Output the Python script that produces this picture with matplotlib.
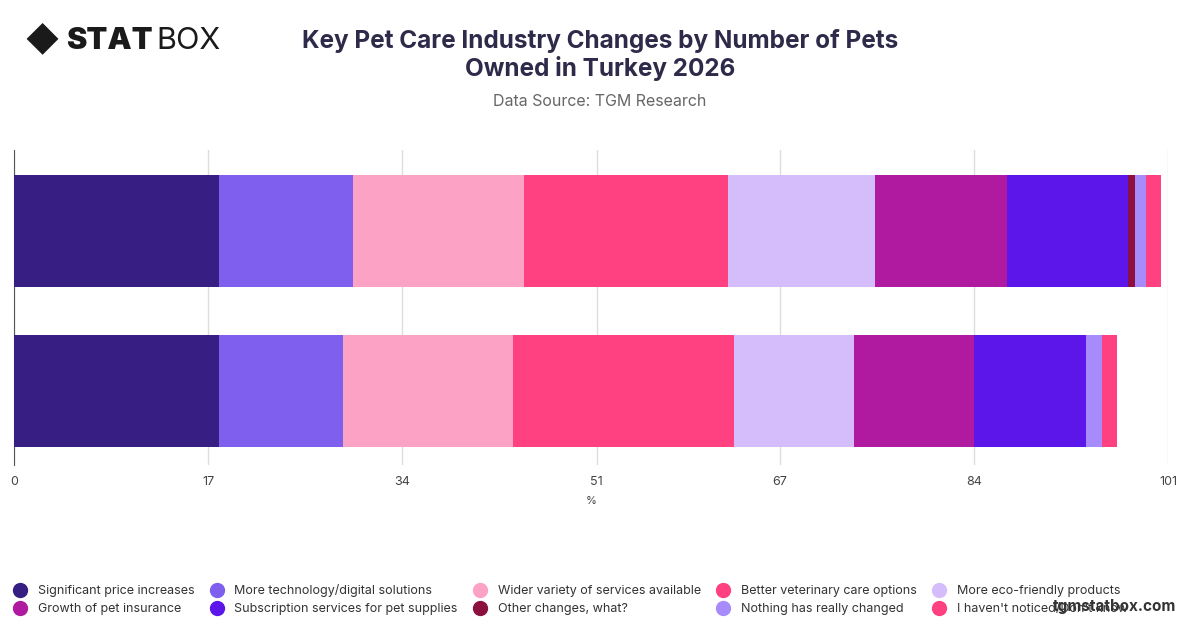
import matplotlib.pyplot as plt
from matplotlib.lines import Line2D

categories = ["Group A", "Group B"]
series_names = [
	"Significant price increases", "More technology/digital solutions",
	"Wider variety of services available", "Better veterinary care options",
	"More eco-friendly products", "Growth of pet insurance",
	"Subscription services for pet supplies", "Other changes, what?",
	"Nothing has really changed", "I haven't noticed/Don't know",
]
values_top = [17.9, 11.8, 14.9, 17.9, 12.9, 11.5, 10.6, 0.6, 1.0, 1.3]
values_bottom = [17.9, 10.9, 14.9, 19.3, 10.5, 10.5, 9.8, 0.0, 1.4, 1.3]
colors = ["#371e82", "#7f5fee", "#fca3c5", "#ff4081", "#d5bcfb",
	"#b01aa0", "#5c16ea", "#8b1040", "#a78bfa", "#ff4081"]
xticks = [0, 17, 34, 51, 67, 84, 101]

plt.rcParams["font.family"] = ["Inter", "DejaVu Sans"]
fig = plt.figure(figsize=(12, 6.28), dpi=100)
ax = fig.add_axes([0.0117, 0.26, 0.9616, 0.501])

rows = [values_top, values_bottom]
for yi, vals in enumerate(rows):
	left = 0
	for v, c in zip(vals, colors):
		ax.barh(yi, v, left=left, height=0.7, color=c, zorder=3)
		left += v

ax.set_ylim(1.4625, -0.506)
ax.set_xlim(0, 101)
ax.set_xticks(xticks)
ax.set_xticklabels([str(t) for t in xticks], fontsize=9, color="#444444")
ax.set_yticks([])
ax.grid(axis="x", color="#dddddd", lw=1, zorder=0)
for s in ["top", "right", "bottom"]:
	ax.spines[s].set_visible(False)
ax.spines["left"].set_color("#555555")
ax.tick_params(axis="x", length=0, pad=8)
ax.set_xlabel("%", fontsize=8, color="#444444", labelpad=6)

fig.text(0.5, 0.912, "Key Pet Care Industry Changes by Number of Pets\nOwned in Turkey 2026",
	ha="center", va="center", fontsize=17.5, fontweight="bold", color="#2d2a4a", linespacing=1.15)
fig.text(0.5, 0.838, "Data Source: TGM Research", ha="center", va="center", fontsize=11.5, color="#666666")
fig.text(0.055, 0.935, "STAT", ha="left", va="center", fontsize=22, fontweight="black", color="#1a1a1a")
fig.text(0.13, 0.935, "BOX", ha="left", va="center", fontsize=22, color="#1a1a1a")
fig.text(0.035, 0.935, "◆", ha="center", va="center", fontsize=24, color="#1a1a1a")
fig.text(0.98, 0.035, "tgmstatbox.com", ha="right", va="center", fontsize=11, fontweight="bold", color="#333333")

# legend fills column-major, reorder so rows read left to right
order = [0, 5, 1, 6, 2, 7, 3, 8, 4, 9]
handles = [Line2D([], [], marker="o", ls="", markersize=10, color=colors[i]) for i in order]
labels = [series_names[i] for i in order]
fig.legend(handles, labels, loc="center", bbox_to_anchor=(0.473, 0.045), ncol=5,
	frameon=False, fontsize=9, handletextpad=0.4, columnspacing=0.8, labelspacing=0.45,
	labelcolor="#333333")

fig.savefig("out.png", dpi=100)
